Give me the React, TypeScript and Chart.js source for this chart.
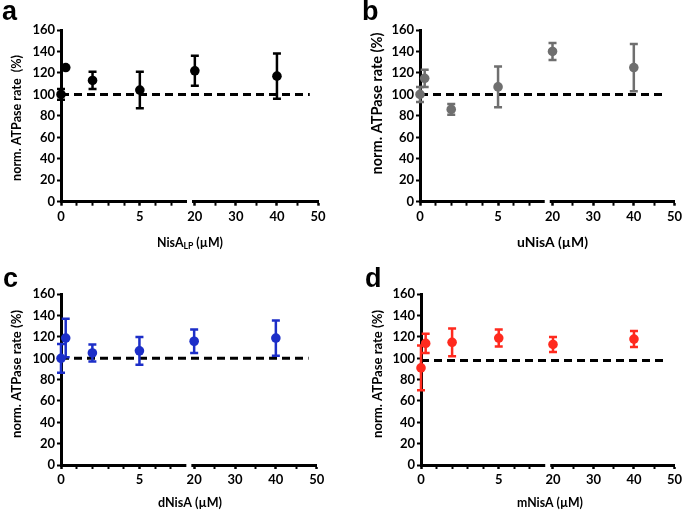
import React, { useEffect, useRef } from "react";
import { Chart, registerables } from "chart.js";

Chart.register(...registerables);

// ---------------- data ----------------
const DOSES = [0, 0.3, 2, 5, 20, 40];

const NISA_LP_MEAN = [100, 125, 113, 104, 122, 117];
const NISA_LP_ERR = [5, 0, 8, 17, 14, 21];

const UNISA_MEAN = [100, 115, 86, 107, 140, 125];
const UNISA_ERR = [7, 8, 5, 19, 8, 22];

const DNISA_MEAN = [100, 119, 105, 107, 116, 119];
const DNISA_ERR = [13.5, 18, 8, 13, 11, 16.5];

const MNISA_MEAN = [91, 114, 115, 119, 113, 118];
const MNISA_ERR = [21, 9, 13, 8, 7, 7.5];

const REF_LEVELS = [100, 100, 100, 98];
const REF_LINE_END = 48;

const Y_TICKS = [0, 20, 40, 60, 80, 100, 120, 140, 160];
const X_LOW_TICKS = [0, 1, 2, 3, 4, 5, 6, 7];
const X_LOW_LABELS = [0, 5];
const X_HIGH_TICKS = [20, 25, 30, 35, 40, 45, 50];
const X_HIGH_LABELS = [20, 30, 40, 50];
const X_LOW_RANGE = [0, 8.15];
const X_HIGH_RANGE = [18.7, 50];

const PANEL_LETTERS = ["a", "b", "c", "d"];
const Y_TITLES = [
  "norm. ATPase rate  (%)",
  "norm. ATPase rate (%)",
  "norm. ATPase rate (%)",
  "norm. ATPase rate (%)",
];
type Part = { text: string; sub?: boolean };
const X_TITLES: Part[][] = [
  [{ text: "NisA" }, { text: "LP", sub: true }, { text: " (µM)" }],
  [{ text: "uNisA (µM)" }],
  [{ text: "dNisA (µM)" }],
  [{ text: "mNisA (µM)" }],
];
const COLORS = ["#000000", "#6f6f6f", "#1c2ec8", "#ff2a1e"];

// ---------------- layout ----------------
const W = 345;
const H = 257;
const Y_AXIS_W = 32;
const X_AXIS_H = 24;
const FONT = "Lato";

const PANELS = [
  { left: 0, top: 0, area: { l: 61, r: 318, t: 30, b: 201.7 }, yT: { x: 17, y: 118, len: 126 }, xT: { x: 190, y: 243, len: 66 }, letter: { x: 2, y: 20 } },
  { left: 340, top: 0, area: { l: 80, r: 336.7, t: 30, b: 201.7 }, yT: { x: 37, y: 103.5, len: 142 }, xT: { x: 212.5, y: 243, len: 71 }, letter: { x: 22, y: 20 } },
  { left: 0, top: 255, area: { l: 61, r: 316.7, t: 39.3, b: 210 }, yT: { x: 17, y: 119, len: 128 }, xT: { x: 190, y: 248, len: 64 }, letter: { x: 3, y: 32 } },
  { left: 340, top: 255, area: { l: 81, r: 336.7, t: 39.3, b: 210 }, yT: { x: 38, y: 119, len: 128 }, xT: { x: 210, y: 248, len: 66 }, letter: { x: 25, y: 32 } },
];

const SERIES = [
  { mean: NISA_LP_MEAN, err: NISA_LP_ERR },
  { mean: UNISA_MEAN, err: UNISA_ERR },
  { mean: DNISA_MEAN, err: DNISA_ERR },
  { mean: MNISA_MEAN, err: MNISA_ERR },
];

function Panel({ idx }: { idx: number }) {
  const ref = useRef<HTMLCanvasElement>(null);
  const cfg = PANELS[idx];
  useEffect(() => {
    const color = COLORS[idx];
    const { mean, err } = SERIES[idx];
    const low = DOSES.map((d, i) => ({ x: d, y: mean[i], e: err[i] })).filter((p) => p.x <= X_LOW_RANGE[1]);
    const high = DOSES.map((d, i) => ({ x: d, y: mean[i], e: err[i] })).filter((p) => p.x >= X_HIGH_RANGE[0]);

    const tickFont = { family: FONT, weight: "bold" as const, size: 13 };

    const decor = {
      id: "decor" + idx,
      beforeDatasetsDraw(chart: any) {
        const ctx = chart.ctx;
        const y = chart.scales.y;
        const xl = chart.scales.xLow;
        const xh = chart.scales.xHigh;
        // reference dashed line
        const yy = y.getPixelForValue(REF_LEVELS[idx]);
        ctx.save();
        ctx.strokeStyle = "#000";
        ctx.lineWidth = 3;
        ctx.setLineDash([8, 5]);
        ctx.beginPath();
        ctx.moveTo(xl.getPixelForValue(0), yy);
        ctx.lineTo(xh.getPixelForValue(REF_LINE_END), yy);
        ctx.stroke();
        ctx.restore();
        // error bars
        chart.data.datasets.forEach((ds: any) => {
          const xs = chart.scales[ds.xAxisID];
          ds.data.forEach((p: any) => {
            if (!p.e) return;
            const px = xs.getPixelForValue(p.x);
            const top = y.getPixelForValue(p.y + p.e);
            const bot = y.getPixelForValue(p.y - p.e);
            ctx.save();
            ctx.strokeStyle = color;
            ctx.lineWidth = 2.5;
            ctx.beginPath();
            ctx.moveTo(px, top);
            ctx.lineTo(px, bot);
            ctx.moveTo(px - 4, top);
            ctx.lineTo(px + 4, top);
            ctx.moveTo(px - 4, bot);
            ctx.lineTo(px + 4, bot);
            ctx.stroke();
            ctx.restore();
          });
        });
      },
      afterDraw(chart: any) {
        const ctx = chart.ctx;
        const xl = chart.scales.xLow;
        const area = chart.chartArea;
        // axis break gap
        ctx.save();
        ctx.fillStyle = "#fff";
        ctx.fillRect(xl.right - 2.5, area.bottom - 3, 5, 10);
        ctx.restore();

        // y title
        ctx.save();
        ctx.fillStyle = "#000";
        const yText = Y_TITLES[idx];
        ctx.font = `bold 12px ${FONT}`;
        const m = ctx.measureText(yText).width;
        const ys = (12 * cfg.yT.len) / m;
        ctx.font = `bold ${ys}px ${FONT}`;
        ctx.translate(cfg.yT.x, cfg.yT.y);
        ctx.rotate(-Math.PI / 2);
        ctx.textAlign = "center";
        ctx.textBaseline = "middle";
        ctx.fillText(yText, 0, 0);
        ctx.restore();

        // x title
        ctx.save();
        ctx.fillStyle = "#000";
        const parts = X_TITLES[idx];
        const measure = (size: number) =>
          parts.reduce((acc, p) => {
            ctx.font = `bold ${p.sub ? size * 0.7 : size}px ${FONT}`;
            return acc + ctx.measureText(p.text).width;
          }, 0);
        const base = (12 * cfg.xT.len) / measure(12);
        const total = measure(base);
        let cx = cfg.xT.x - total / 2;
        ctx.textAlign = "left";
        ctx.textBaseline = "middle";
        parts.forEach((p) => {
          const s = p.sub ? base * 0.7 : base;
          ctx.font = `bold ${s}px ${FONT}`;
          ctx.fillText(p.text, cx, cfg.xT.y + (p.sub ? base * 0.3 : 0));
          cx += ctx.measureText(p.text).width;
        });
        ctx.restore();

        // panel letter
        ctx.save();
        ctx.fillStyle = "#000";
        ctx.font = `bold 27px "Liberation Sans"`;
        ctx.textAlign = "left";
        ctx.textBaseline = "alphabetic";
        ctx.fillText(PANEL_LETTERS[idx], cfg.letter.x, cfg.letter.y);
        ctx.restore();
      },
    };

    const xCommon = (ticks: number[], labels: number[], range: number[]) => ({
      type: "linear" as const,
      axis: "x" as const,
      position: "bottom" as const,
      stack: "bottom",
      stackWeight: 1,
      min: range[0],
      max: range[1],
      afterBuildTicks: (s: any) => {
        s.ticks = ticks.map((v) => ({ value: v }));
      },
      afterFit: (s: any) => {
        s.height = X_AXIS_H;
      },
      ticks: {
        autoSkip: false,
        maxRotation: 0,
        padding: 3,
        color: "#000",
        font: tickFont,
        callback: (v: any) => (labels.includes(Number(v)) ? String(v) : ""),
      },
      grid: {
        display: true,
        drawOnChartArea: false,
        drawTicks: true,
        tickLength: 4,
        tickColor: "#000",
        tickWidth: (c: any) => (c.tick && labels.includes(c.tick.value) ? 2.5 : 2),
      },
      border: { display: true, width: 3, color: "#000" },
    });

    const chart = new Chart(ref.current!, {
      type: "scatter",
      data: {
        datasets: [
          { data: low as any, xAxisID: "xLow", yAxisID: "y", backgroundColor: color, borderColor: color, pointRadius: 4.8, pointHoverRadius: 4.8, pointBorderWidth: 0, showLine: false, clip: false as any },
          { data: high as any, xAxisID: "xHigh", yAxisID: "y", backgroundColor: color, borderColor: color, pointRadius: 4.8, pointHoverRadius: 4.8, pointBorderWidth: 0, showLine: false, clip: false as any },
        ],
      },
      options: {
        animation: false,
        responsive: false,
        events: [],
        layout: {
          padding: {
            left: cfg.area.l - Y_AXIS_W,
            right: W - cfg.area.r,
            top: cfg.area.t,
            bottom: H - cfg.area.b - X_AXIS_H,
          },
        },
        plugins: { legend: { display: false }, tooltip: { enabled: false }, title: { display: false } },
        scales: {
          xLow: xCommon(X_LOW_TICKS, X_LOW_LABELS, X_LOW_RANGE) as any,
          xHigh: xCommon(X_HIGH_TICKS, X_HIGH_LABELS, X_HIGH_RANGE) as any,
          y: {
            type: "linear",
            position: "left",
            min: 0,
            max: 160,
            afterBuildTicks: (s: any) => {
              s.ticks = Y_TICKS.map((v) => ({ value: v }));
            },
            afterFit: (s: any) => {
              s.width = Y_AXIS_W;
            },
            ticks: { padding: 2, color: "#000", font: tickFont },
            grid: { display: true, drawOnChartArea: false, drawTicks: true, tickLength: 4, tickColor: "#000", tickWidth: 2 },
            border: { display: true, width: 3, color: "#000" },
          } as any,
        },
      },
      plugins: [decor as any],
    });
    return () => chart.destroy();
  }, []);
  return (
    <canvas
      ref={ref}
      width={W}
      height={H}
      style={{ position: "absolute", left: cfg.left, top: cfg.top, width: W, height: H }}
    />
  );
}

export default function App() {
  return (
    <div style={{ position: "fixed", left: 0, top: 0, width: 685, height: 512, background: "#fff", overflow: "hidden" }}>
      {PANELS.map((_, i) => (
        <Panel key={i} idx={i} />
      ))}
    </div>
  );
}
